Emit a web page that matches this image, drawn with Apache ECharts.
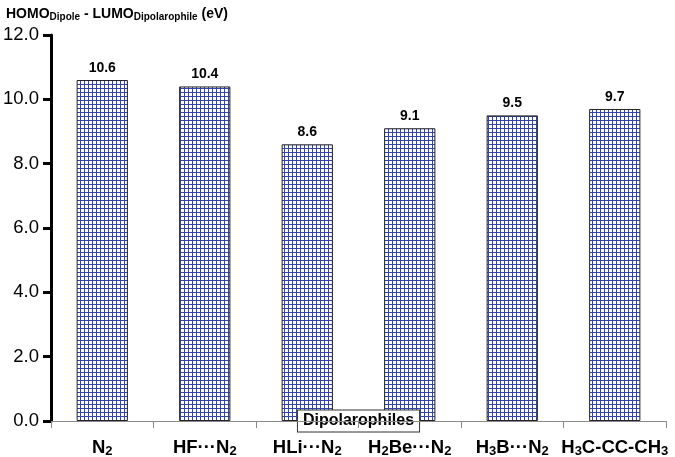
<!DOCTYPE html>
<html>
<head>
<meta charset="utf-8">
<script src="https://cdn.jsdelivr.net/npm/echarts@6/dist/echarts.min.js"></script>
<style>
  html, body { margin: 0; padding: 0; background: #fff; }
  #chart { width: 675px; height: 457px; }
</style>
</head>
<body>
<div id="chart"></div>
<script>
// data
const categories = ['N2', 'HF···N2', 'HLi···N2', 'H2Be···N2', 'H3B···N2', 'H3C-CC-CH3'];
const gapValues = [10.6, 10.4, 8.6, 9.1, 9.5, 9.7];
const yTicks = [0, 2, 4, 6, 8, 10, 12];

// rich label markup: digits after letters become subscripts
function richLabel(s) {
    return s.replace(/([A-Za-z])(\d)/g, '$1{s|$2}')
        .split(/(\{s\|\d\})/)
        .map(function (p) { return p.startsWith('{s|') ? p : (p ? '{b|' + p + '}' : ''); })
        .join('');
}

// crosshatch fill
function hatch() {
    const c = document.createElement('canvas');
    c.width = 4; c.height = 4;
    const g = c.getContext('2d');
    g.fillStyle = '#ffffff';
    g.fillRect(0, 0, 4, 4);
    g.fillStyle = '#3345ad';
    g.fillRect(0, 0, 4, 1);
    g.fillRect(0, 0, 1, 4);
    return c;
}

const myChart = echarts.init(document.getElementById('chart'));

const option = {
    animation: false,
    textStyle: { fontFamily: 'Arial, "Liberation Sans", sans-serif' },
    title: {
        text: '{t|HOMO}{s|Dipole}{t| - LUMO}{s|Dipolarophile}{t| (eV)}',
        left: 1, top: 1,
        textStyle: {
            rich: {
                t: { fontSize: 14, fontWeight: 'bold', color: '#000', fontFamily: 'Arial, "Liberation Sans", sans-serif' },
                s: { fontSize: 10, fontWeight: 'bold', color: '#000', verticalAlign: 'bottom', padding: [6, 0, 0, 0], fontFamily: 'Arial, "Liberation Sans", sans-serif' }
            }
        }
    },
    grid: { left: 51, right: 9, top: 35, bottom: 36, containLabel: false, outerBoundsMode: 'none' },
    xAxis: {
        type: 'category',
        z: 10,
        data: categories,
        name: 'Dipolarophiles',
        nameLocation: 'middle',
        nameGap: 0,
        nameMoveOverlap: false,
        nameTextStyle: {
            fontSize: 16, fontWeight: 'bold', color: '#000',
            verticalAlign: 'middle',
            backgroundColor: '#fff', borderColor: '#333', borderWidth: 1,
            padding: [3, 5, 2, 5]
        },
        axisLine: { lineStyle: { color: '#8a8a8a', width: 1 } },
        axisTick: { show: true, length: 7, lineStyle: { color: '#8a8a8a', width: 1 } },
        axisLabel: {
            margin: 16,
            interval: 0,
            hideOverlap: false,
            formatter: function (v) { return richLabel(v); },
            rich: {
                b: { fontSize: 18.5, fontWeight: 'bold', color: '#000' },
                s: { fontSize: 13, fontWeight: 'bold', color: '#000', verticalAlign: 'bottom', padding: [8, 0, 0, 0] }
            }
        }
    },
    yAxis: {
        type: 'value',
        z: 10,
        min: yTicks[0],
        max: yTicks[yTicks.length - 1],
        interval: 2,
        splitLine: { show: false },
        axisLine: { show: true, lineStyle: { color: '#000', width: 3 } },
        axisTick: { show: true, length: 8, lineStyle: { color: '#000', width: 3 } },
        axisLabel: {
            margin: 12, fontSize: 18.5, color: '#000',
            formatter: function (v) { return v.toFixed(1); }
        }
    },
    series: [{
        type: 'bar',
        data: gapValues,
        barWidth: '50%',
        itemStyle: {
            color: { image: hatch(), repeat: 'repeat' },
            borderColor: '#222',
            borderWidth: 1
        },
        label: {
            show: true, position: 'top', distance: 5,
            fontSize: 14, fontWeight: 'bold', color: '#000',
            formatter: function (p) { return p.value.toFixed(1); }
        }
    }]
};

myChart.setOption(option);
</script>
</body>
</html>
